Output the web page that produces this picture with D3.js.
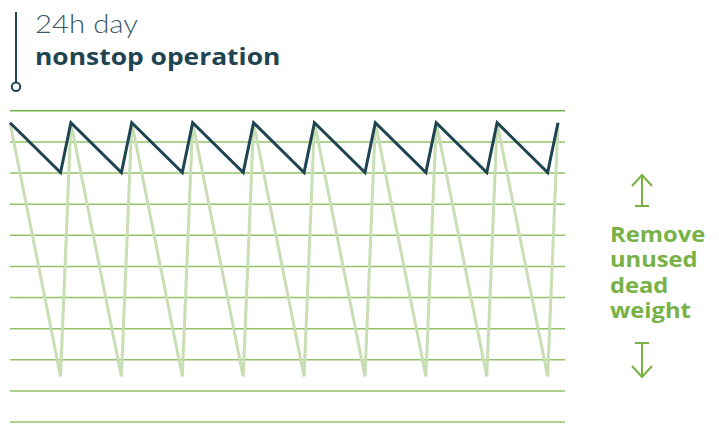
<!DOCTYPE html>
<html>
<head>
<meta charset="utf-8">
<script src="https://cdn.jsdelivr.net/npm/d3@7"></script>
<style>
  html, body { margin: 0; padding: 0; background: #ffffff; }
  svg { display: block; }
</style>
</head>
<body>
<svg id="chart" width="719" height="425"></svg>
<script>
// ---- data ----
const titleLines = ["24h day", "nonstop operation"];
const sideLabel = ["Remove", "unused", "dead", "weight"];
const gridLevels = [0, 1, 2, 3, 4, 5, 6, 7, 8, 9, 10];
const times = [0, 0.83, 1, 1.83, 2, 2.83, 3, 3.83, 4, 4.83, 5, 5.83, 6, 6.83, 7, 7.83, 8, 8.83, 9];
const activeWeight = [9.6, 8.0, 9.6, 8.0, 9.6, 8.0, 9.6, 8.0, 9.6, 8.0, 9.6, 8.0, 9.6, 8.0, 9.6, 8.0, 9.6, 8.0, 9.6];
const deadWeight = [9.6, 1.45, 9.6, 1.45, 9.6, 1.45, 9.6, 1.45, 9.6, 1.45, 9.6, 1.45, 9.6, 1.45, 9.6, 1.45, 9.6, 1.45, 9.6];

// ---- styles ----
const DARK = "#1f4451";
const GREEN = "#78b246";
const GRID = "#93c26a";
const LIGHT = "#c8deb3";
const FONT = "'Open Sans', 'DejaVu Sans', sans-serif";
const LIGHTFONT = "Lato, 'Open Sans', sans-serif";

const svg = d3.select("#chart");

const x = d3.scaleLinear().domain([0, 9]).range([10, 558]);
const y = d3.scaleLinear().domain([0, 10]).range([421.6, 110.3]);

// gridlines via axis
const gridAxis = d3.axisLeft(y).tickValues(gridLevels).tickSize(-555).tickFormat("");
const g = svg.append("g").attr("transform", "translate(10,0)").call(gridAxis);
g.select(".domain").remove();
g.selectAll(".tick line")
  .attr("stroke", (d) => d === 10 ? GREEN : GRID)
  .attr("stroke-width", 1.5);

const line = d3.line().x((d) => x(d[0])).y((d) => y(d[1]));

svg.append("path")
  .attr("d", line(times.map((t, i) => [t, deadWeight[i]])))
  .attr("fill", "none")
  .attr("stroke", LIGHT)
  .attr("stroke-width", 3);

svg.append("path")
  .attr("d", line(times.map((t, i) => [t, activeWeight[i]])))
  .attr("fill", "none")
  .attr("stroke", DARK)
  .attr("stroke-width", 3);

// widen text to mimic the wider geometric original typeface
function stretch(sel, target) {
  sel.each(function () {
    const w = this.getComputedTextLength();
    d3.select(this).attr("textLength", w * target).attr("lengthAdjust", "spacingAndGlyphs");
  });
}

// title marker
svg.append("line").attr("x1", 16).attr("x2", 16).attr("y1", 12).attr("y2", 82.5)
  .attr("stroke", DARK).attr("stroke-width", 2);
svg.append("circle").attr("cx", 16).attr("cy", 86.7).attr("r", 4.2)
  .attr("fill", "#fff").attr("stroke", DARK).attr("stroke-width", 2);

const t1 = svg.append("text").attr("x", 35).attr("y", 33)
  .attr("font-family", LIGHTFONT).attr("font-weight", 300).attr("font-size", 25)
  .attr("fill", "#3a5966").text(titleLines[0]);
t1.each(function () {
  d3.select(this).attr("textLength", 103).attr("lengthAdjust", "spacingAndGlyphs");
});
svg.append("text").attr("x", 35).attr("y", 65)
  .attr("font-family", FONT).attr("font-weight", 700).attr("font-size", 24)
  .attr("fill", DARK).text(titleLines[1])
  .call(stretch, 1.10);

// side label
svg.append("g").selectAll("text").data(sideLabel).join("text")
  .attr("x", 610).attr("y", (d, i) => 242 + i * 25.4)
  .attr("font-family", FONT).attr("font-weight", 700).attr("font-size", 21)
  .attr("fill", GREEN).text((d) => d)
  .call(stretch, 1.13);

// arrows
const ax = 642;
const arrows = svg.append("g").attr("stroke", GREEN).attr("stroke-width", 2).attr("fill", "none");
arrows.append("path").attr("d", `M${ax},175 L${ax},206 M${ax-7},206 L${ax+7},206 M${ax-10},186 L${ax},175 L${ax+10},186`);
arrows.append("path").attr("d", `M${ax},343 L${ax},377 M${ax-7},343 L${ax+7},343 M${ax-10},366 L${ax},377 L${ax+10},366`);
</script>
</body>
</html>
